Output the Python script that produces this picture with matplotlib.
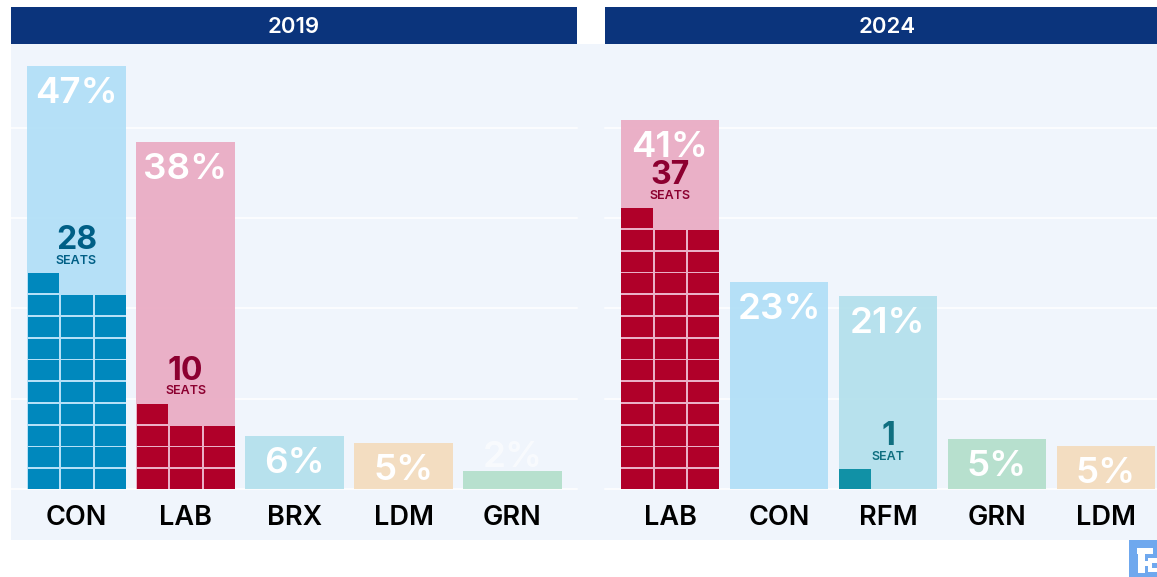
import matplotlib
matplotlib.use('Agg')
import matplotlib.pyplot as plt
from matplotlib.patches import Rectangle

plt.rcParams['font.family'] = ['Inter', 'DejaVu Sans']

W, H = 1157, 577

# 2019 results
parties_19 = ['CON', 'LAB', 'BRX', 'LDM', 'GRN']
votes_19 = [46.8, 38.4, 5.9, 5.1, 2.0]
seats_19 = [28, 10, 0, 0, 0]
labels_19 = ['47%', '38%', '6%', '5%', '2%']

# 2024 results
parties_24 = ['LAB', 'CON', 'RFM', 'GRN', 'LDM']
votes_24 = [40.9, 22.9, 21.4, 5.5, 4.8]
seats_24 = [37, 0, 1, 0, 0]
labels_24 = ['41%', '23%', '21%', '5%', '5%']

light = {'CON': '#b1dff7', 'LAB': '#eaabc3', 'BRX': '#b3e0ec', 'RFM': '#b3e0ec',
         'LDM': '#f4dcbd', 'GRN': '#b3dfcb'}
dark = {'CON': '#0088bd', 'LAB': '#b00029', 'RFM': '#1191a6'}
textc = {'CON': '#005f86', 'LAB': '#8c0030', 'RFM': '#0f6f80'}

PX_PER_PCT = 9.03
PX_PER_CAT = 109.0


def px_axes(fig, x0, y0, x1, y1):
    ax = fig.add_axes([x0 / W, 1 - y1 / H, (x1 - x0) / W, (y1 - y0) / H])
    ax.set_zorder(5)
    return ax


def fig_rect(fig, x0, y0, x1, y1, color, zorder=0):
    fig.patches.append(Rectangle((x0 / W, 1 - y1 / H), (x1 - x0) / W, (y1 - y0) / H,
                                 transform=fig.transFigure, facecolor=color,
                                 edgecolor='none', zorder=zorder))


def px_off(ax, i, y, dy, s, **kw):
    # dy is in pixels above the anchor
    ax.annotate(s, (i, y), xytext=(0, dy * 0.72), textcoords='offset points',
                ha='center', va='center', **kw)


def panel(fig, x0, x1, first_center, year_x, year, parties, votes, seats, labels):
    ax = px_axes(fig, x0, 44, x1, 489)
    ax.patch.set_visible(False)
    ax.set_xlim((x0 - first_center) / PX_PER_CAT, (x1 - first_center) / PX_PER_CAT)
    ax.set_ylim(0, 445 / PX_PER_PCT)
    for s in ax.spines.values():
        s.set_visible(False)

    ax.set_yticks([0, 10, 20, 30, 40])
    ax.set_yticklabels([])
    ax.tick_params(axis='y', length=0)
    ax.yaxis.grid(True, color='white', lw=1.1, zorder=1, clip_on=False)
    ax.set_axisbelow(True)

    ax.set_xticks(range(len(parties)))
    ax.set_xticklabels(parties, fontsize=19.5, fontweight='semibold', color='black')
    ax.tick_params(axis='x', length=0, pad=11.5)

    cols = [light[p] for p in parties]
    ax.bar(range(len(parties)), votes, width=0.9, color=cols, alpha=0.93, zorder=2)

    # seat blocks, three to a row, filled from the bottom left
    cell_w = 31.3 / PX_PER_CAT
    pitch_x = 33.3 / PX_PER_CAT
    cell_h = 20.0 / PX_PER_PCT
    pitch_y = 21.75 / PX_PER_PCT
    for i, (p, n) in enumerate(zip(parties, seats)):
        for k in range(n):
            row, col = k // 3, k % 3
            ax.bar(i - 0.45 + cell_w / 2 + col * pitch_x + 0.005, cell_h, width=cell_w,
                   bottom=row * pitch_y, color=dark[p], zorder=3)
        if n > 0:
            stack_top = ((n - 1) // 3 + 1) * pitch_y
            px_off(ax, i, stack_top, 31, str(n), fontsize=23, fontweight='bold',
                   color=textc[p], zorder=5)
            px_off(ax, i, stack_top, 10.5, 'SEATS' if n > 1 else 'SEAT', fontsize=9,
                   fontweight='semibold', color=textc[p], zorder=5)

    for i, (v, s) in enumerate(zip(votes, labels)):
        # the 2% bar is too short to hold its label, so it sits above
        if v < 3:
            px_off(ax, i, v, 13, s, fontsize=26.5, fontweight='semibold', color='white',
                   alpha=0.6, zorder=6)
        else:
            px_off(ax, i, v, -27.5, s, fontsize=26.5, fontweight='semibold', color='white',
                   zorder=6)

    # year header
    hd = px_axes(fig, x0, 7, x1, 44)
    hd.set_facecolor('#0b347c')
    hd.set_xticks([])
    hd.set_yticks([])
    for s in hd.spines.values():
        s.set_visible(False)
    hd.text((year_x - x0) / (x1 - x0), 0.47, year, transform=hd.transAxes, ha='center',
            va='center', color='white', fontsize=16, fontweight='semibold')


fig = plt.figure(figsize=(W / 100, H / 100), dpi=100, facecolor='white')

fig_rect(fig, 11, 44, 1157, 540, '#f0f5fc')

panel(fig, 11, 577, 76.5, 294, '2019', parties_19, votes_19, seats_19, labels_19)
panel(fig, 605, 1157, 670, 887, '2024', parties_24, votes_24, seats_24, labels_24)

# corner logo
fig_rect(fig, 1129, 540, 1157, 577, '#6fa8ee')
for bx in [(1137, 548, 1153, 554), (1138, 548, 1145, 573), (1138, 561, 1148, 566), (1148, 558, 1157, 563), (1148, 558, 1152, 572), (1148, 568, 1157, 572)]:
    fig_rect(fig, bx[0], bx[1], bx[2], bx[3], 'white', zorder=1)

fig.savefig('out.png', dpi=100)
